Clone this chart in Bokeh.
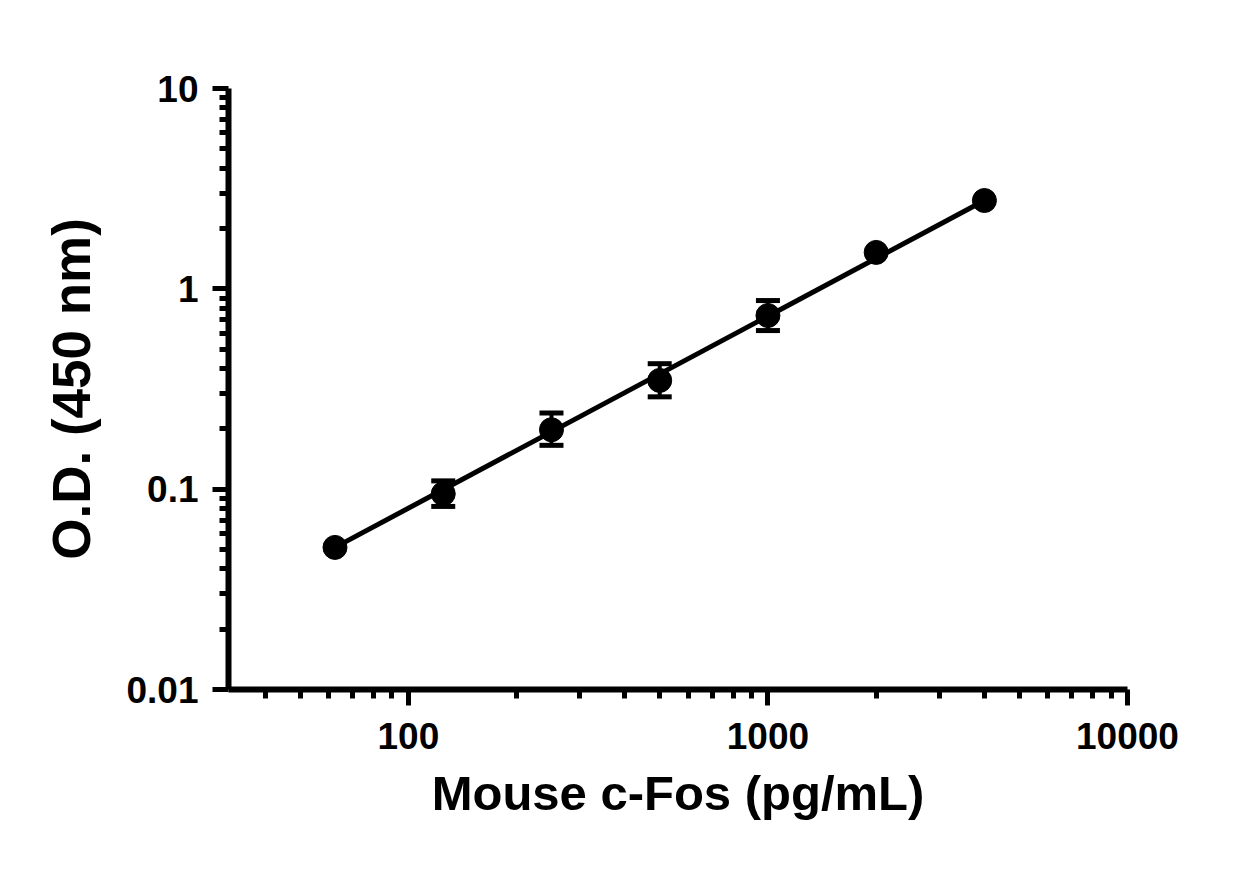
from bokeh.plotting import figure
from bokeh.models import ColumnDataSource, FixedTicker, Whisker, TeeHead
from bokeh.embed import file_html
from bokeh.resources import INLINE

# standard curve
conc = [62.5, 125, 250, 500, 1000, 2000, 4000]
od = [0.0512, 0.0948, 0.198, 0.349, 0.736, 1.52, 2.76]

# fitted straight line (log-log), its two ends
fit_conc = [62.5, 4000]
fit_od = [0.0512, 2.76]

# points that carry visible error bars
err_conc = [125, 250, 500, 1000]
err_low = [0.082, 0.1655, 0.289, 0.619]
err_high = [0.110, 0.240, 0.423, 0.874]

x_ticks = [100, 1000, 10000]
y_ticks = [0.01, 0.1, 1, 10]
y_labels = ["0.01", "0.1", "1", "10"]

x_minor = [m * 10 ** k for k in (1, 2, 3) for m in range(2, 10) if m * 10 ** k > 35]
y_minor = [m * 10.0 ** k for k in (-2, -1, 0) for m in range(2, 10)]

p = figure(width=1235, height=854, x_axis_type="log", y_axis_type="log",
           x_range=(31.6, 10000), y_range=(0.01, 10),
           output_backend="svg", toolbar_location=None,
           min_border_left=228, min_border_right=108,
           min_border_top=88, min_border_bottom=165)
p.outline_line_color = None
p.grid.visible = False
p.background_fill_color = "white"
p.border_fill_color = "white"

p.line(fit_conc, fit_od, line_color="black", line_width=5)
src = ColumnDataSource(dict(x=err_conc, lower=err_low, upper=err_high))
p.add_layout(Whisker(source=src, base="x", lower="lower", upper="upper",
                     dimension="height", line_color="black", line_width=4,
                     upper_head=TeeHead(size=24, line_width=5, line_color="black"),
                     lower_head=TeeHead(size=24, line_width=5, line_color="black")))
p.scatter(conc, od, size=24, color="black")

for ax in (p.xaxis[0], p.yaxis[0]):
    ax.axis_line_width = 6
    ax.axis_line_color = "black"
    ax.major_tick_line_width = 5
    ax.minor_tick_line_width = 5
    ax.major_tick_line_color = "black"
    ax.minor_tick_line_color = "black"
    ax.major_tick_in = 0
    ax.minor_tick_in = 0
    ax.major_tick_out = 16
    ax.minor_tick_out = 9
    ax.major_label_text_font = "Liberation Sans"
    ax.major_label_text_font_style = "bold"
    ax.major_label_text_font_size = "37px"
    ax.major_label_text_color = "black"
    ax.axis_label_text_font = "Liberation Sans"
    ax.axis_label_text_font_style = "bold"
    ax.axis_label_text_color = "black"

p.xaxis.ticker = FixedTicker(ticks=x_ticks, minor_ticks=x_minor)
p.yaxis.ticker = FixedTicker(ticks=y_ticks, minor_ticks=y_minor)
p.xaxis.major_label_overrides = {t: str(t) for t in x_ticks}
p.yaxis.major_label_overrides = dict(zip(y_ticks, y_labels))
p.xaxis.major_label_standoff = 17
p.yaxis.major_label_standoff = 14
p.xaxis.axis_label = "Mouse c-Fos (pg/mL)"
p.yaxis.axis_label = "O.D. (450 nm)"
p.xaxis.axis_label_text_font_size = "49px"
p.yaxis.axis_label_text_font_size = "53px"
p.xaxis.axis_label_standoff = 14
p.yaxis.axis_label_standoff = 22

open("out.html", "w").write(file_html(p, INLINE))
